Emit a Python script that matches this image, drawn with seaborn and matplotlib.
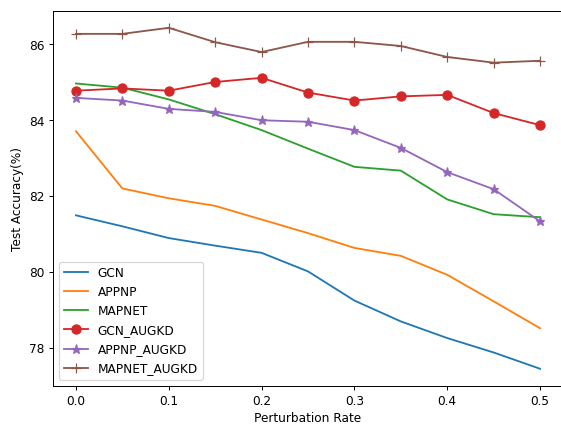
import matplotlib
matplotlib.use("Agg")
import matplotlib.pyplot as plt
import seaborn as sns
import pandas as pd

rates = [0.0, 0.05, 0.1, 0.15, 0.2, 0.25, 0.3, 0.35, 0.4, 0.45, 0.5]
gcn = [81.49, 81.20, 80.89, 80.69, 80.50, 80.01, 79.24, 78.69, 78.25, 77.87, 77.44]
appnp = [83.71, 82.20, 81.94, 81.74, 81.38, 81.02, 80.63, 80.42, 79.92, 79.22, 78.51]
mapnet = [84.97, 84.86, 84.55, 84.16, 83.74, 83.25, 82.77, 82.67, 81.91, 81.52, 81.44]
gcn_augkd = [84.78, 84.84, 84.78, 85.01, 85.12, 84.73, 84.52, 84.63, 84.67, 84.19, 83.87]
appnp_augkd = [84.59, 84.52, 84.30, 84.22, 84.00, 83.96, 83.74, 83.27, 82.63, 82.18, 81.33]
mapnet_augkd = [86.28, 86.28, 86.44, 86.06, 85.80, 86.07, 86.07, 85.96, 85.67, 85.52, 85.57]

series = [
    ("GCN", gcn, None),
    ("APPNP", appnp, None),
    ("MAPNET", mapnet, None),
    ("GCN_AUGKD", gcn_augkd, "o"),
    ("APPNP_AUGKD", appnp_augkd, "*"),
    ("MAPNET_AUGKD", mapnet_augkd, "+"),
]
colors = sns.color_palette("tab10", 6)

fig, ax = plt.subplots(figsize=(6.4, 4.84), dpi=87.66)
for (name, vals, mk), c in zip(series, colors):
    df = pd.DataFrame({"rate": rates, "acc": vals})
    kw = {}
    if mk is not None:
        kw = dict(marker=mk, markersize=7.5, markeredgecolor=c,
                  markerfacecolor=c, markeredgewidth=1.0)
    sns.lineplot(data=df, x="rate", y="acc", ax=ax, color=c, label=name,
                 linewidth=1.5, **kw)

ax.set_xlabel("Perturbation Rate")
ax.set_ylabel("Test Accuracy(%)")
ax.legend(loc="lower left")
fig.subplots_adjust(left=0.094, right=1.004, top=0.974, bottom=0.09)
fig.savefig("out.png", dpi=87.66)
